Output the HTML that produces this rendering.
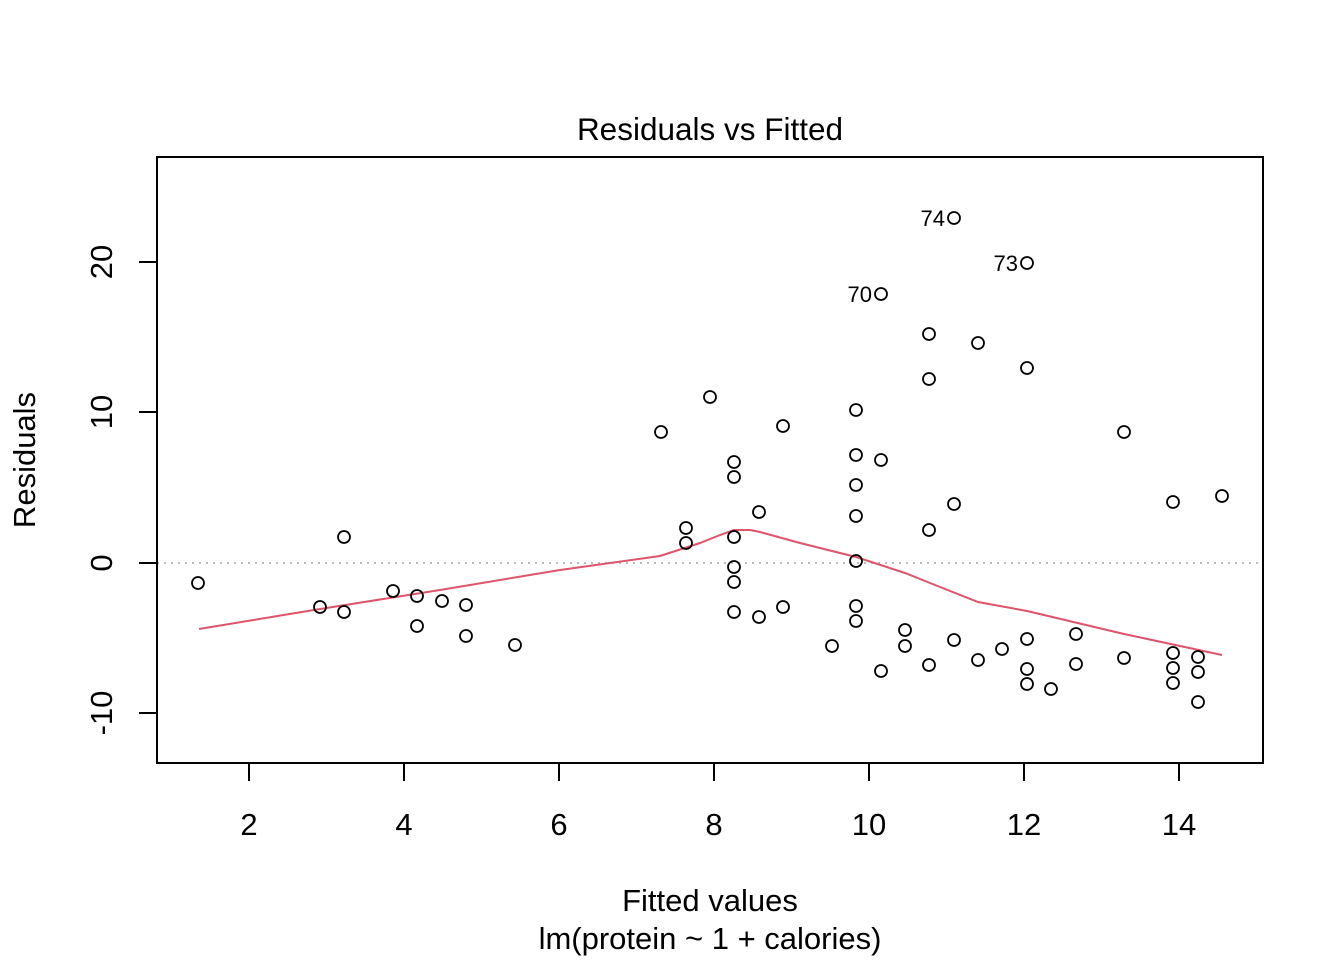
<!DOCTYPE html>
<html><head><meta charset="utf-8"><style>html,body{margin:0;padding:0;background:#fff}svg{display:block}</style></head>
<body>
<svg width="1344" height="960" xmlns="http://www.w3.org/2000/svg" font-family="Liberation Sans, Arial, sans-serif">
<rect width="1344" height="960" fill="#fff"/>
<text x="710" y="140" font-size="31.5" text-anchor="middle">Residuals vs Fitted</text>
<line x1="157" y1="563" x2="1263" y2="563" stroke="#bbb" stroke-width="2" stroke-dasharray="2,5"/>
<polyline fill="none" stroke="#DF536B" stroke-width="2" points="199,629 320,609 440,590 560,570 660,556 700,543 720,535 734,530 750,530 760,532 800,543 856,557 905,573 930,583 978,602 1027,611 1124,634 1222,655"/>
<g fill="none" stroke="#000" stroke-width="2">
<rect x="157" y="157" width="1106" height="606"/>
<line x1="249" y1="763" x2="1179" y2="763"/>
<line x1="249" y1="763" x2="249" y2="781"/><line x1="404" y1="763" x2="404" y2="781"/><line x1="559" y1="763" x2="559" y2="781"/><line x1="714" y1="763" x2="714" y2="781"/><line x1="869" y1="763" x2="869" y2="781"/><line x1="1024" y1="763" x2="1024" y2="781"/><line x1="1179" y1="763" x2="1179" y2="781"/>
<line x1="157" y1="262" x2="157" y2="713"/>
<line x1="139" y1="262" x2="157" y2="262"/><line x1="139" y1="412" x2="157" y2="412"/><line x1="139" y1="563" x2="157" y2="563"/><line x1="139" y1="713" x2="157" y2="713"/>
</g>
<g font-size="31" text-anchor="middle">
<text x="249" y="835">2</text><text x="404" y="835">4</text><text x="559" y="835">6</text><text x="714" y="835">8</text><text x="869" y="835">10</text><text x="1024" y="835">12</text><text x="1179" y="835">14</text>
<text transform="translate(112,262) rotate(-90)">20</text>
<text transform="translate(112,412) rotate(-90)">10</text>
<text transform="translate(112,563) rotate(-90)">0</text>
<text transform="translate(112,713) rotate(-90)">-10</text>
<text transform="translate(35,460) rotate(-90)">Residuals</text>
<text x="710" y="911">Fitted values</text>
<text x="710" y="949">lm(protein ~ 1 + calories)</text>
</g>
<g font-size="22" text-anchor="end">
<text x="945" y="226">74</text><text x="1018" y="271">73</text><text x="872" y="302">70</text>
</g>
<g fill="none" stroke="#000" stroke-width="1.8">
<circle cx="198" cy="583" r="6"/><circle cx="320" cy="607" r="6"/><circle cx="344" cy="537" r="6"/><circle cx="344" cy="612" r="6"/><circle cx="393" cy="591" r="6"/><circle cx="417" cy="596" r="6"/><circle cx="417" cy="626" r="6"/><circle cx="442" cy="601" r="6"/><circle cx="466" cy="605" r="6"/><circle cx="466" cy="636" r="6"/><circle cx="515" cy="645" r="6"/><circle cx="661" cy="432" r="6"/><circle cx="686" cy="528" r="6"/><circle cx="686" cy="543" r="6"/><circle cx="710" cy="397" r="6"/><circle cx="734" cy="462" r="6"/><circle cx="734" cy="477" r="6"/><circle cx="734" cy="537" r="6"/><circle cx="734" cy="567" r="6"/><circle cx="734" cy="582" r="6"/><circle cx="734" cy="612" r="6"/><circle cx="759" cy="512" r="6"/><circle cx="759" cy="617" r="6"/><circle cx="783" cy="426" r="6"/><circle cx="783" cy="607" r="6"/><circle cx="832" cy="646" r="6"/><circle cx="856" cy="410" r="6"/><circle cx="856" cy="455" r="6"/><circle cx="856" cy="485" r="6"/><circle cx="856" cy="516" r="6"/><circle cx="856" cy="561" r="6"/><circle cx="856" cy="606" r="6"/><circle cx="856" cy="621" r="6"/><circle cx="881" cy="294" r="6"/><circle cx="881" cy="460" r="6"/><circle cx="881" cy="671" r="6"/><circle cx="905" cy="630" r="6"/><circle cx="905" cy="646" r="6"/><circle cx="929" cy="334" r="6"/><circle cx="929" cy="379" r="6"/><circle cx="929" cy="530" r="6"/><circle cx="929" cy="665" r="6"/><circle cx="954" cy="218" r="6"/><circle cx="954" cy="504" r="6"/><circle cx="954" cy="640" r="6"/><circle cx="978" cy="343" r="6"/><circle cx="978" cy="660" r="6"/><circle cx="1002" cy="649" r="6"/><circle cx="1027" cy="263" r="6"/><circle cx="1027" cy="368" r="6"/><circle cx="1027" cy="639" r="6"/><circle cx="1027" cy="669" r="6"/><circle cx="1027" cy="684" r="6"/><circle cx="1051" cy="689" r="6"/><circle cx="1076" cy="634" r="6"/><circle cx="1076" cy="664" r="6"/><circle cx="1124" cy="432" r="6"/><circle cx="1124" cy="658" r="6"/><circle cx="1173" cy="502" r="6"/><circle cx="1173" cy="653" r="6"/><circle cx="1173" cy="668" r="6"/><circle cx="1173" cy="683" r="6"/><circle cx="1198" cy="657" r="6"/><circle cx="1198" cy="672" r="6"/><circle cx="1198" cy="702" r="6"/><circle cx="1222" cy="496" r="6"/>
</g>
</svg>
</body></html>
